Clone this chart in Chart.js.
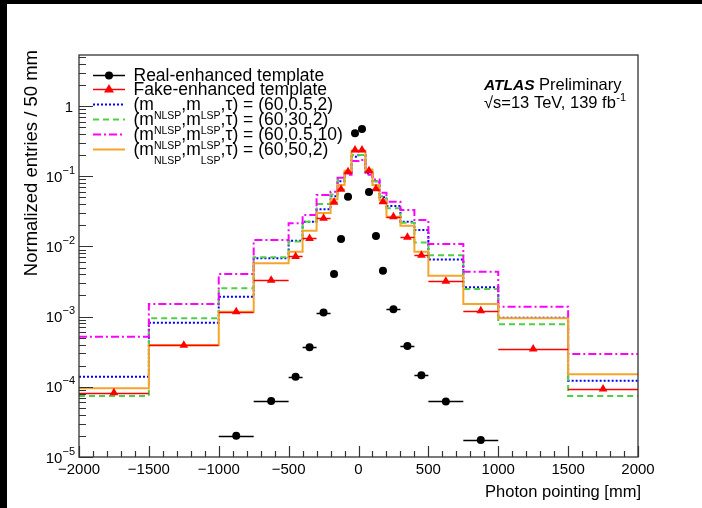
<!DOCTYPE html>
<html>
<head>
<meta charset="utf-8">
<script src="https://cdn.jsdelivr.net/npm/chart.js@4.4.1/dist/chart.umd.min.js"></script>
<style>
  html, body { margin: 0; padding: 0; background: #fff; }
  #wrap { position: relative; width: 702px; height: 508px; overflow: hidden; background: #fff; }
  canvas { position: absolute; left: 0; top: 0; }
  .edge { position: absolute; background: #000; }
</style>
</head>
<body>
<div id="wrap">
  <canvas id="c" width="702" height="508"></canvas>
  <div class="edge" style="left:0;top:0;width:702px;height:4px"></div>
  <div class="edge" style="left:0;top:0;width:7px;height:508px"></div>
</div>
<script>
// Bin edges of the photon-pointing distribution [mm]
const binEdges = [-2000, -1500, -1000, -750, -500, -400, -300, -200, -150, -100, -50,
                  0, 50, 100, 150, 200, 300, 400, 500, 750, 1000, 1500, 2000];

// Normalized entries / 50 mm, one value per bin (null = empty bin)
const realEnhanced = [null, null, 2.0e-5, 6.3e-5, 1.39e-4, 3.65e-4, 1.14e-3, 4.05e-3, 1.27e-2, 5.1e-2, 0.408,
                      0.47, 0.0596, 0.0141, 4.5e-3, 1.27e-3, 3.8e-4, 1.46e-4, 6.2e-5, 1.75e-5, null, null];
const fakeEnhanced = [8.2e-5, 3.9e-4, 1.17e-3, 3.3e-3, 7.2e-3, 1.30e-2, 2.52e-2, 4.25e-2, 6.5e-2, 0.116, 0.236,
                      0.236, 0.12, 0.0664, 0.0434, 0.0265, 0.0135, 7.5e-3, 3.2e-3, 1.21e-3, 3.45e-4, 9.3e-5];
const sig_60_05_2  = [1.39e-4, 8.2e-4, 1.92e-3, 6.8e-3, 1.2e-2, 2.25e-2, 3.38e-2, 0.052, 0.085, 0.11, 0.19,
                      0.2, 0.11, 0.085, 0.05, 3.76e-2, 2.25e-2, 1.71e-2, 6.5e-3, 2.61e-3, 9.6e-4, 1.22e-4];
const sig_60_30_2  = [7.4e-5, 9.5e-4, 2.53e-3, 7.0e-3, 1.17e-2, 2.25e-2, 4.02e-2, 0.055, 0.088, 0.11, 0.2,
                      0.2, 0.115, 0.085, 0.052, 3.49e-2, 2.18e-2, 1.14e-2, 7.5e-3, 2.47e-3, 7.8e-4, 7.4e-5];
const sig_60_05_10 = [5.17e-4, 1.51e-3, 4.05e-3, 1.23e-2, 2.13e-2, 2.8e-2, 0.054, 0.06, 0.095, 0.105, 0.165,
                      0.17, 0.105, 0.09, 0.058, 4.34e-2, 3.3e-2, 2.38e-2, 1.08e-2, 4.36e-3, 1.38e-3, 2.93e-4];
const sig_60_50_2  = [9.5e-5, 3.94e-4, 1.17e-3, 5.74e-3, 8.4e-3, 1.67e-2, 3.0e-2, 0.047, 0.075, 0.12, 0.226,
                      0.226, 0.125, 0.075, 0.046, 2.65e-2, 1.97e-2, 8.4e-3, 3.83e-3, 1.51e-3, 9.5e-4, 1.51e-4];

// Axis tick labels
const xTickValues = [-2000, -1500, -1000, -500, 0, 500, 1000, 1500, 2000];
const yTickPowers = [-5, -4, -3, -2, -1, 0];

// Signal-point labels (m_NLSP, m_LSP, tau)
const signalPoints = ['(60,0.5,2)', '(60,30,2)', '(60,0.5,10)', '(60,50,2)'];

const FONT = '"Liberation Sans", Arial, Helvetica, sans-serif';
const COLORS = {
  real: '#000000', fake: '#ff0000',
  blue: '#0000ff', green: '#4fcf45', magenta: '#ff00ff', orange: '#f5a52a'
};
const STYLES = [
  { color: COLORS.blue,    dash: [2, 2] },
  { color: COLORS.green,   dash: [6, 4] },
  { color: COLORS.magenta, dash: [8, 3, 2, 3] },
  { color: COLORS.orange,  dash: [] }
];

function stepData(vals) {
  return binEdges.map((e, i) => ({ x: e, y: vals[Math.min(i, vals.length - 1)] }));
}
function pointData(vals) {
  const out = [];
  vals.forEach((v, i) => {
    if (v !== null) out.push({ x: (binEdges[i] + binEdges[i + 1]) / 2, y: v, lo: binEdges[i], hi: binEdges[i + 1] });
  });
  return out;
}

const histSeries = [sig_60_05_2, sig_60_30_2, sig_60_05_10, sig_60_50_2];
const histDatasets = histSeries.map((vals, k) => ({
  type: 'line',
  data: stepData(vals),
  stepped: 'before',
  borderColor: STYLES[k].color,
  borderDash: STYLES[k].dash,
  borderWidth: 2,
  pointRadius: 0,
  fill: false,
  order: 5 - k
}));

const pointDatasets = [
  { type: 'scatter', data: pointData(fakeEnhanced), pointStyle: 'triangle', pointRadius: 5,
    backgroundColor: COLORS.fake, borderColor: COLORS.fake, borderWidth: 0, errBars: true, order: 1 },
  { type: 'scatter', data: pointData(realEnhanced), pointStyle: 'circle', pointRadius: 4,
    backgroundColor: COLORS.real, borderColor: COLORS.real, borderWidth: 0, errBars: true, order: 0 }
];

// Horizontal bin-width bars under each marker set
const binBars = {
  id: 'binBars',
  beforeDatasetDraw(chart, args) {
    const ds = chart.data.datasets[args.index];
    if (!ds.errBars) return;
    const { ctx, chartArea: a, scales: { x, y } } = chart;
    ctx.save();
    ctx.beginPath();
    ctx.rect(a.left, a.top, a.right - a.left, a.bottom - a.top);
    ctx.clip();
    ctx.strokeStyle = ds.borderColor;
    ctx.lineWidth = 1.5;
    ds.data.forEach(p => {
      const py = Math.round(y.getPixelForValue(p.y)) + 0.5;
      ctx.beginPath();
      ctx.moveTo(x.getPixelForValue(p.lo), py);
      ctx.lineTo(x.getPixelForValue(p.hi), py);
      ctx.stroke();
    });
    ctx.restore();
  }
};

function textWithSup(ctx, base, sup, xRight, baseline, size, supSize, rise) {
  ctx.font = supSize + 'px ' + FONT;
  const ws = ctx.measureText(sup).width;
  ctx.textAlign = 'left';
  ctx.fillText(sup, xRight - ws, baseline - rise);
  ctx.font = size + 'px ' + FONT;
  const wb = ctx.measureText(base).width;
  ctx.fillText(base, xRight - ws - wb, baseline);
}

// Frame, inward ticks, labels, legend and annotations
const decorations = {
  id: 'decorations',
  afterDraw(chart) {
    const { ctx, chartArea: a, scales: { x, y } } = chart;
    ctx.save();
    ctx.textBaseline = 'alphabetic';
    ctx.fillStyle = '#000';

    // ticks
    ctx.strokeStyle = '#333';
    ctx.lineWidth = 1.2;
    ctx.beginPath();
    for (let v = x.min; v <= x.max; v += 100) {
      const px = Math.round(x.getPixelForValue(v)) + 0.5;
      const len = (v % 500 === 0) ? 11 : 6;
      ctx.moveTo(px, a.bottom);
      ctx.lineTo(px, a.bottom - len);
    }
    for (let e = -5; e <= 0; e++) {
      for (let m = 1; m <= 9; m++) {
        const v = m * Math.pow(10, e);
        if (v > y.max) break;
        const py = Math.round(y.getPixelForValue(v)) + 0.5;
        const len = m === 1 ? 14 : 7;
        ctx.moveTo(a.left, py);
        ctx.lineTo(a.left + len, py);
      }
    }
    ctx.stroke();

    // frame
    ctx.strokeStyle = '#333';
    ctx.lineWidth = 1.3;
    ctx.strokeRect(a.left, a.top, a.right - a.left, a.bottom - a.top);

    // x tick labels
    ctx.font = '15px ' + FONT;
    ctx.textAlign = 'center';
    xTickValues.forEach(v => {
      const t = v < 0 ? '\u2212' + Math.abs(v) : String(v);
      ctx.fillText(t, x.getPixelForValue(v), 474);
    });

    // y tick labels
    yTickPowers.forEach(p => {
      const py = y.getPixelForValue(Math.pow(10, p));
      if (p === 0) {
        ctx.font = '15px ' + FONT;
        ctx.textAlign = 'right';
        ctx.fillText('1', 73, py + 5.5);
      } else {
        textWithSup(ctx, '10', '\u2212' + Math.abs(p), 75, py + 5.5, 15, 11, 8);
      }
    });

    // axis titles
    ctx.font = '16.5px ' + FONT;
    ctx.textAlign = 'right';
    ctx.fillText('Photon pointing [mm]', 641, 497);
    ctx.save();
    ctx.translate(37, 50);
    ctx.rotate(-Math.PI / 2);
    ctx.font = '18.5px ' + FONT;
    ctx.textAlign = 'right';
    ctx.fillText('Normalized entries / 50 mm', 0, 0);
    ctx.restore();

    // ATLAS label
    ctx.textAlign = 'left';
    ctx.font = 'italic bold 15.5px ' + FONT;
    ctx.fillText('ATLAS', 484, 90);
    const aw = ctx.measureText('ATLAS').width;
    ctx.font = '16.5px ' + FONT;
    ctx.fillText('Preliminary', Math.max(539, 484 + aw + 4), 90);
    const lumi = '\u221As=13 TeV, 139 fb';
    ctx.fillText(lumi, 484, 108);
    const lw = ctx.measureText(lumi).width;
    ctx.font = '11px ' + FONT;
    ctx.fillText('-1', 484 + lw + 0.5, 101);

    // legend
    const lx0 = 93, lx1 = 125, lmid = 109, tx = 133.5;
    const base0 = 80.5, pitch = 14.8;
    const main = 17.5, sub = 10.5;
    ctx.font = main + 'px ' + FONT;
    ['Real-enhanced template', 'Fake-enhanced template'].forEach((t, i) => {
      const b = base0 + i * pitch;
      const ly = Math.round(b - 6) + 0.5;
      const col = i === 0 ? COLORS.real : COLORS.fake;
      ctx.strokeStyle = col;
      ctx.lineWidth = 1.5;
      ctx.setLineDash([]);
      ctx.beginPath(); ctx.moveTo(lx0, ly); ctx.lineTo(lx1, ly); ctx.stroke();
      ctx.fillStyle = col;
      ctx.beginPath();
      if (i === 0) {
        ctx.arc(lmid, ly, 4, 0, Math.PI * 2);
      } else {
        ctx.moveTo(lmid, ly - 5.5); ctx.lineTo(lmid + 5, ly + 3); ctx.lineTo(lmid - 5, ly + 3); ctx.closePath();
      }
      ctx.fill();
      ctx.fillStyle = '#000';
      ctx.font = main + 'px ' + FONT;
      ctx.textAlign = 'left';
      ctx.fillText(t, tx, b);
    });
    signalPoints.forEach((pt, k) => {
      const b = base0 + (k + 2) * pitch;
      const ly = Math.round(b - 6) + 0.5;
      ctx.strokeStyle = STYLES[k].color;
      ctx.lineWidth = 2;
      ctx.setLineDash(STYLES[k].dash);
      ctx.beginPath(); ctx.moveTo(lx0, ly); ctx.lineTo(lx1, ly); ctx.stroke();
      ctx.setLineDash([]);
      ctx.fillStyle = '#000';
      ctx.textAlign = 'left';
      let cx = tx;
      const parts = [['(m', main, 0], ['NLSP', sub, 9.3], [',m', main, 0], ['LSP', sub, 9.3],
                     [',\u03C4) = ' + pt, main, 0]];
      parts.forEach(([s, size, drop]) => {
        ctx.font = size + 'px ' + FONT;
        ctx.fillText(s, cx, b + drop);
        cx += ctx.measureText(s).width;
      });
    });
    ctx.restore();
  }
};

new Chart(document.getElementById('c'), {
  data: { datasets: [...pointDatasets, ...histDatasets] },
  options: {
    responsive: false,
    animation: false,
    devicePixelRatio: 1,
    layout: { padding: { left: 79, top: 55, right: 64, bottom: 51 } },
    plugins: { legend: { display: false }, tooltip: { enabled: false } },
    scales: {
      x: { type: 'linear', min: -2000, max: 2000, display: false },
      y: { type: 'logarithmic', min: 1e-5, max: 5.33, display: false }
    }
  },
  plugins: [binBars, decorations]
});
</script>
</body>
</html>
